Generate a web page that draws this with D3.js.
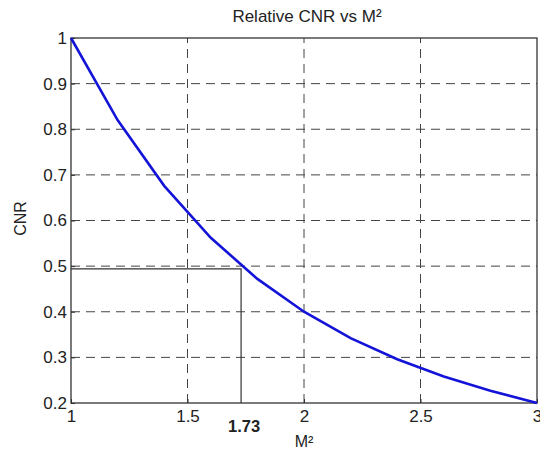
<!DOCTYPE html>
<html>
<head>
<meta charset="utf-8">
<script src="https://d3js.org/d3.v7.min.js"></script>
<style>
body { margin: 0; background: #fff; }
text { font-family: "Liberation Sans", Arial, sans-serif; fill: #222; }
</style>
</head>
<body>
<script>
// values
var m2 = [1, 1.2, 1.4, 1.6, 1.8, 2, 2.2, 2.4, 2.6, 2.8, 3];
var cnr = [1, 0.82, 0.676, 0.562, 0.472, 0.4, 0.342, 0.296, 0.258, 0.227, 0.2];
var xTicks = [1, 1.5, 2, 2.5, 3];
var yTicks = [0.2, 0.3, 0.4, 0.5, 0.6, 0.7, 0.8, 0.9, 1];
var mark = { x: 1.73, y: 0.494 };

var width = 540,
    height = 449,
    margin = { top: 38, right: 3, bottom: 46, left: 71 };

var svg = d3.select("body").append("svg")
    .attr("width", width)
    .attr("height", height);

var x = d3.scaleLinear().domain([1, 3]).range([margin.left, width - margin.right]);
var y = d3.scaleLinear().domain([0.2, 1]).range([height - margin.bottom, margin.top]);

// grid
svg.append("g").selectAll("line")
    .data(xTicks.slice(1, -1))
    .enter().append("line")
    .attr("x1", function(d) { return x(d); })
    .attr("x2", function(d) { return x(d); })
    .attr("y1", y(0.2))
    .attr("y2", y(1))
    .attr("stroke", "#444")
    .attr("stroke-dasharray", "9,6");

svg.append("g").selectAll("line")
    .data(yTicks.slice(1, -1))
    .enter().append("line")
    .attr("x1", x(1))
    .attr("x2", x(3))
    .attr("y1", function(d) { return y(d); })
    .attr("y2", function(d) { return y(d); })
    .attr("stroke", "#444")
    .attr("stroke-dasharray", "9,6");

// axes
var xAxis = svg.append("g")
    .attr("transform", "translate(0," + y(0.2) + ")")
    .call(d3.axisBottom(x).tickValues(xTicks).tickSize(-4).tickPadding(7)
        .tickFormat(d3.format("")));
var yAxis = svg.append("g")
    .attr("transform", "translate(" + x(1) + ",0)")
    .call(d3.axisLeft(y).tickValues(yTicks).tickSize(-4).tickPadding(4)
        .tickFormat(d3.format("")));

[xAxis, yAxis].forEach(function(g) {
    g.select(".domain").remove();
    g.selectAll("line").attr("stroke", "#333");
    g.selectAll("text").attr("font-size", 17).style("fill", "#222");
});

// frame
svg.append("rect")
    .attr("x", x(1))
    .attr("y", y(1))
    .attr("width", x(3) - x(1))
    .attr("height", y(0.2) - y(1))
    .attr("fill", "none")
    .attr("stroke", "#333")
    .attr("stroke-width", 1.3);

// marker lines at 1.73
svg.append("path")
    .attr("d", "M" + x(1) + "," + y(mark.y) + "H" + x(mark.x) + "V" + y(0.2))
    .attr("fill", "none")
    .attr("stroke", "#333")
    .attr("stroke-width", 1.2);

// curve
var line = d3.line()
    .x(function(d, i) { return x(m2[i]); })
    .y(function(d) { return y(d); });

svg.append("path")
    .datum(cnr)
    .attr("d", line)
    .attr("fill", "none")
    .attr("stroke", "#1414d8")
    .attr("stroke-width", 2.6);

// texts
svg.append("text")
    .attr("x", 307)
    .attr("y", 22)
    .attr("text-anchor", "middle")
    .attr("font-size", 17)
    .text("Relative CNR vs M²");

svg.append("text")
    .attr("x", x(mark.x) + 3)
    .attr("y", 432)
    .attr("text-anchor", "middle")
    .attr("font-size", 16.5)
    .attr("font-weight", "bold")
    .text("1.73");

svg.append("text")
    .attr("x", x(2))
    .attr("y", 447)
    .attr("text-anchor", "middle")
    .attr("font-size", 16)
    .text("M²");

svg.append("text")
    .attr("transform", "translate(26," + (y(0.6) - 2) + ") rotate(-90)")
    .attr("text-anchor", "middle")
    .attr("font-size", 16)
    .text("CNR");
</script>
</body>
</html>
